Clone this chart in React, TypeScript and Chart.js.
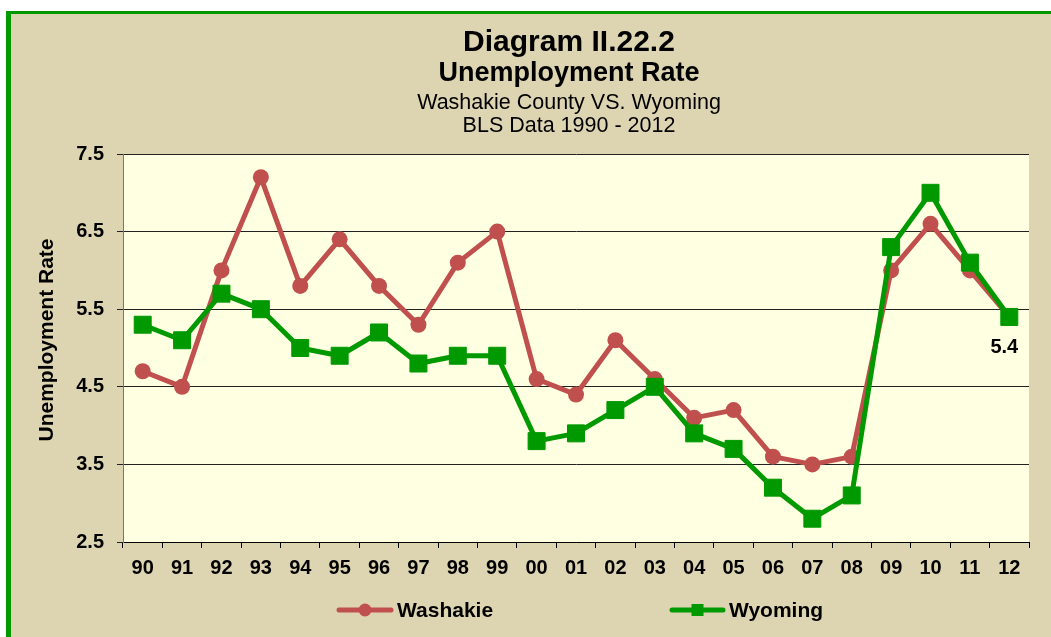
import React, { useEffect, useRef } from 'react';
import { Chart, registerables } from 'chart.js';

Chart.register(...registerables);

const years = ['90', '91', '92', '93', '94', '95', '96', '97', '98', '99', '00', '01', '02', '03', '04', '05', '06', '07', '08', '09', '10', '11', '12'];
const washakie = [4.7, 4.5, 6.0, 7.2, 5.8, 6.4, 5.8, 5.3, 6.1, 6.5, 4.6, 4.4, 5.1, 4.6, 4.1, 4.2, 3.6, 3.5, 3.6, 6.0, 6.6, 6.0, 5.4];
const wyoming = [5.3, 5.1, 5.7, 5.5, 5.0, 4.9, 5.2, 4.8, 4.9, 4.9, 3.8, 3.9, 4.2, 4.5, 3.9, 3.7, 3.2, 2.8, 3.1, 6.3, 7.0, 6.1, 5.4];
const yTicks = [2.5, 3.5, 4.5, 5.5, 6.5, 7.5];
const seriesNames = ['Washakie', 'Wyoming'];
const titleLines = ['Diagram II.22.2', 'Unemployment Rate', 'Washakie County VS. Wyoming', 'BLS Data 1990 - 2012'];
const yAxisTitle = 'Unemployment Rate';

const RED = '#C0504D';
const GREEN = '#009900';
const FONT = '"Liberation Sans", Arial, Helvetica, sans-serif';

export default function App() {
  const ref = useRef<HTMLCanvasElement>(null);

  useEffect(() => {
    document.body.style.margin = '0';
    const canvas = ref.current!;

    const bgPlugin = {
      id: 'plotBg',
      beforeDraw(chart: any) {
        const { ctx, chartArea: a } = chart;
        ctx.save();
        ctx.fillStyle = '#FFFFE1';
        ctx.fillRect(a.left, a.top, a.right - a.left, a.bottom - a.top);
        ctx.restore();
      },
    };

    const textPlugin = {
      id: 'texts',
      afterDraw(chart: any) {
        const { ctx } = chart;
        ctx.save();
        ctx.fillStyle = '#000';
        ctx.textAlign = 'center';
        ctx.textBaseline = 'alphabetic';
        const cx = 569;
        const specs = [
          { f: `bold 30px ${FONT}`, y: 51 },
          { f: `bold 27px ${FONT}`, y: 81 },
          { f: `21.5px ${FONT}`, y: 109 },
          { f: `21.5px ${FONT}`, y: 132 },
        ];
        titleLines.forEach((t, i) => {
          ctx.font = specs[i].f;
          ctx.fillText(t, cx, specs[i].y);
        });

        // y axis title
        ctx.save();
        ctx.translate(47, 340);
        ctx.rotate(-Math.PI / 2);
        ctx.font = `bold 21px ${FONT}`;
        ctx.textBaseline = 'middle';
        ctx.fillText(yAxisTitle, 0, 0);
        ctx.restore();

        // legend
        const items = [
          { x0: 339, x1: 391, mx: 365, tx: 397, ds: chart.data.datasets[0] },
          { x0: 672, x1: 723, mx: 697.5, tx: 729, ds: chart.data.datasets[1] },
        ];
        const ly = 610;
        items.forEach((it) => {
          const col = it.ds.borderColor;
          ctx.strokeStyle = col;
          ctx.fillStyle = col;
          ctx.lineWidth = 5;
          ctx.lineCap = 'round';
          ctx.beginPath();
          ctx.moveTo(it.x0, ly);
          ctx.lineTo(it.x1, ly);
          ctx.stroke();
          if (it.ds.pointStyle === 'rect') {
            ctx.fillRect(it.mx - 6, ly - 6, 12, 12);
          } else {
            ctx.beginPath();
            ctx.arc(it.mx, ly, 6.5, 0, Math.PI * 2);
            ctx.fill();
          }
          ctx.fillStyle = '#000';
          ctx.font = `bold 21px ${FONT}`;
          ctx.textAlign = 'left';
          ctx.textBaseline = 'alphabetic';
          ctx.fillText(it.ds.label, it.tx, 617);
        });
        ctx.restore();
      },
    };

    const labelPlugin = {
      id: 'lastLabel',
      afterDatasetsDraw(chart: any) {
        const { ctx } = chart;
        const meta = chart.getDatasetMeta(1);
        const n = wyoming.length - 1;
        const pt = meta.data[n];
        ctx.save();
        ctx.fillStyle = '#000';
        ctx.font = `bold 20px ${FONT}`;
        ctx.textAlign = 'center';
        ctx.textBaseline = 'alphabetic';
        ctx.fillText(wyoming[n].toFixed(1), pt.x - 5, pt.y + 36);
        ctx.restore();
      },
    };

    const chart = new Chart(canvas, {
      type: 'line',
      data: {
        labels: years,
        datasets: [
          {
            label: seriesNames[0],
            data: washakie,
            borderColor: RED,
            backgroundColor: RED,
            borderWidth: 5,
            pointStyle: 'circle',
            pointRadius: 8,
            pointBorderWidth: 0,
            pointBackgroundColor: RED,
            tension: 0,
            borderJoinStyle: 'round',
            order: 1,
          },
          {
            label: seriesNames[1],
            data: wyoming,
            borderColor: GREEN,
            backgroundColor: GREEN,
            borderWidth: 5,
            pointStyle: 'rect',
            pointRadius: 12,
            pointBorderWidth: 1,
            pointBorderColor: GREEN,
            pointBackgroundColor: GREEN,
            tension: 0,
            borderJoinStyle: 'round',
            order: 0,
          },
        ],
      },
      options: {
        responsive: false,
        animation: false,
        devicePixelRatio: 1,
        layout: { padding: { top: 154, right: 22, bottom: 0, left: 0 } },
        plugins: {
          legend: { display: false },
          title: { display: false },
          tooltip: { enabled: false },
        },
        scales: {
          x: {
            type: 'category',
            offset: true,
            afterFit: (s: any) => { s.height = 95; },
            grid: { display: true, drawOnChartArea: false, offset: true, tickLength: 6, color: '#000', lineWidth: 1 },
            border: { display: true, color: '#000', width: 1 },
            ticks: { color: '#000', font: { family: FONT, size: 20, weight: 'bold' }, padding: 8, maxRotation: 0, autoSkip: false },
          },
          y: {
            type: 'linear',
            min: 2.5,
            max: 7.5,
            afterFit: (s: any) => { s.width = 123; },
            afterBuildTicks: (s: any) => { s.ticks = yTicks.map((v) => ({ value: v })); },
            grid: { color: '#222', lineWidth: 1, tickLength: 6 },
            border: { display: true, color: '#777', width: 1 },
            ticks: {
              color: '#000',
              font: { family: FONT, size: 20, weight: 'bold' },
              padding: 13,
              callback: (v: any) => Number(v).toFixed(1),
            },
          },
        },
      },
      plugins: [bgPlugin, labelPlugin, textPlugin],
    } as any);

    return () => chart.destroy();
  }, []);

  return (
    <div style={{ position: 'relative', width: 1051, height: 637, background: '#fff', overflow: 'hidden' }}>
      <div
        style={{
          position: 'absolute',
          left: 6,
          top: 11,
          width: 1045,
          height: 626,
          boxSizing: 'border-box',
          borderLeft: `5px solid ${GREEN}`,
          borderTop: `3px solid ${GREEN}`,
          background: '#DDD5B1',
        }}
      />
      <div style={{ position: 'absolute', left: 0, top: 0 }}>
        <canvas ref={ref} width={1051} height={637} style={{ width: 1051, height: 637, display: 'block' }} />
      </div>
    </div>
  );
}
